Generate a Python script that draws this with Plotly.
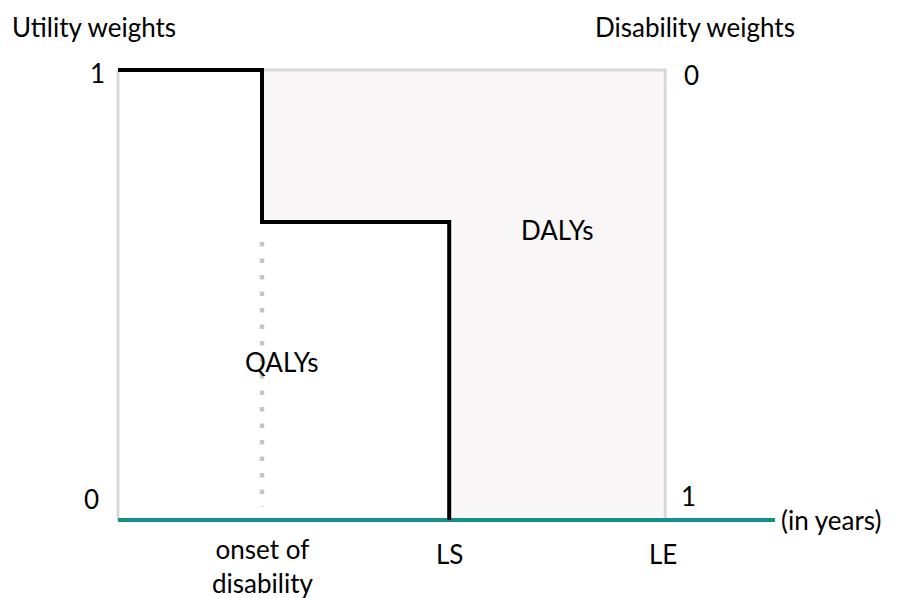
import plotly.graph_objects as go

# Data (x in arbitrary time units, y = utility weight)
x_points = {"start": 0.0, "onset": 2.0, "LS": 4.6, "LE": 7.6, "end": 9.125}
utility_full = 1.0
utility_disabled = 0.662
dotted_range = [0.618, 0.030]
x_tick_labels = ["onset of<br>disability", "LS", "LE"]
left_tick_labels = ["1", "0"]
right_tick_labels = ["0", "1"]
area_labels = ["DALYs", "QALYs"]

x0, xo, xls, xle, xend = (x_points[k] for k in ["start", "onset", "LS", "LE", "end"])

FONT = "Lato"
GRAY = "#dcd7d7"
SHADE = "#f8f6f7"
TEAL = "#139085"
OFF = 8  # page body margin

fig = go.Figure()

fig.add_trace(go.Scatter(
    x=[xo, xle, xle, xls, xls, xo, xo],
    y=[utility_full, utility_full, 0, 0, utility_disabled, utility_disabled, utility_full],
    mode="lines", fill="toself", fillcolor=SHADE, line=dict(width=0),
    hoverinfo="skip", showlegend=False))

fig.add_trace(go.Scatter(x=[x0, x0], y=[0, utility_full], mode="lines",
                         line=dict(color=GRAY, width=3), showlegend=False))
fig.add_trace(go.Scatter(x=[xo, xle, xle], y=[utility_full, utility_full, 0], mode="lines",
                         line=dict(color=GRAY, width=3), showlegend=False))

fig.add_trace(go.Scatter(x=[xo, xo], y=dotted_range, mode="lines",
                         line=dict(color="#c9c3c4", width=4.5, dash="4.5px,12px"),
                         showlegend=False))

fig.add_trace(go.Scatter(x=[x0, xend], y=[0, 0], mode="lines",
                         line=dict(color=TEAL, width=4), showlegend=False))

fig.add_trace(go.Scatter(
    x=[x0, xo, xo, xls, xls],
    y=[utility_full, utility_full, utility_disabled, utility_disabled, 0],
    mode="lines", line=dict(color="black", width=4), showlegend=False))

# reference-pixel helpers (plot area spans ref px x 100..800, y 50..540)
px_x = lambda p: (p - 118) / 72.0
px_y = lambda p: (520 - p) / 450.0
pp_x = lambda p: (p - 100) / 700.0
pp_y = lambda p: (540 - p) / 490.0

fs = 26
ann = []
def a(x, y, text, xanchor="center", yanchor="middle"):
    ann.append(dict(x=pp_x(x), y=pp_y(y), text=text, xref="paper", yref="paper",
                    showarrow=False, xanchor=xanchor, yanchor=yanchor,
                    font=dict(family=FONT, size=fs, color="black")))

a(10, 27, "Utility weights", xanchor="left")
a(797, 27, "Disability weights", xanchor="right")
a(97, 73, left_tick_labels[0])
a(91, 499, left_tick_labels[1])
a(691, 75, right_tick_labels[0])
a(688, 496, right_tick_labels[1])
a(118 + 72 * xo, 566, x_tick_labels[0])
a(118 + 72 * xls, 554, x_tick_labels[1])
a(118 + 72 * xle - 2, 554, x_tick_labels[2])
a(779, 520, "(in years)", xanchor="left")
a(557, 230, area_labels[0])
a(282, 362, area_labels[1])

fig.update_layout(
    width=906 - OFF, height=598 - OFF,
    margin=dict(l=100 - OFF, r=106, t=50 - OFF, b=58),
    paper_bgcolor="white", plot_bgcolor="white",
    xaxis=dict(range=[px_x(100), px_x(800)], visible=False, fixedrange=True),
    yaxis=dict(range=[px_y(540), px_y(50)], visible=False, fixedrange=True),
    annotations=ann,
)

fig.write_html("out.html")
